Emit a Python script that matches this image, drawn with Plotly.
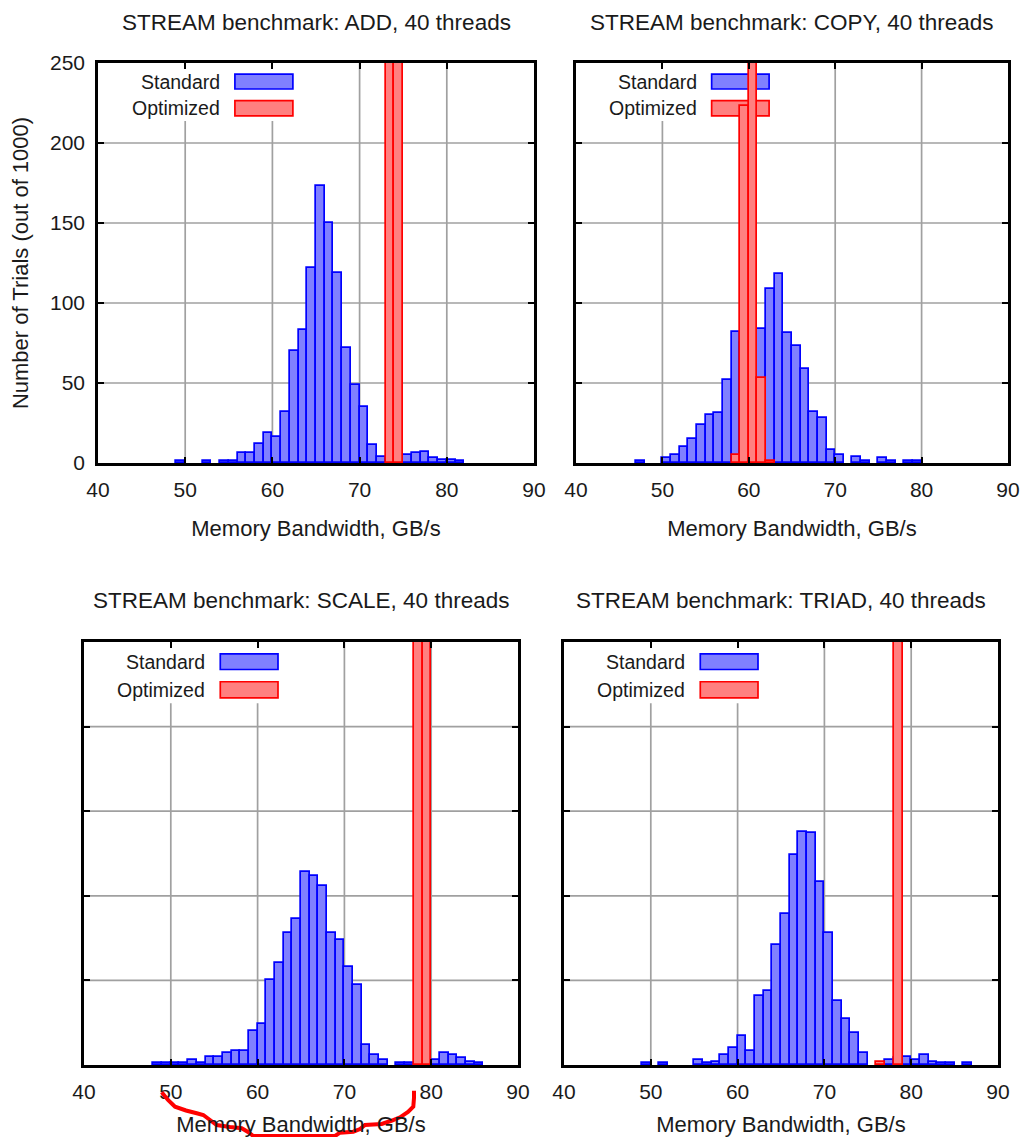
import plotly.graph_objects as go

# ---------------- data (bin left edge in GB/s, count out of 1000) ----------------
ADD_STD_GBS = [49, 52, 54, 55, 56, 57, 58, 59, 60, 61, 62, 63, 64, 65, 66, 67, 68, 69, 70, 71, 72, 73, 74, 75, 76, 77, 78, 79, 80, 81]
ADD_STD_N = [1, 1, 1, 1, 6, 6, 12, 19, 16, 32, 70, 83, 122, 173, 150, 119, 72, 49, 35, 11, 4, 2, 1, 5, 6, 7, 3, 2, 2, 1]
ADD_OPT_GBS = [73, 74]
ADD_OPT_N = [540, 460]

COPY_STD_GBS = [47, 50, 51, 52, 53, 54, 55, 56, 57, 58, 59, 60, 61, 62, 63, 64, 65, 66, 67, 68, 69, 70, 72, 73, 75, 76, 78, 79]
COPY_STD_N = [1, 3, 5, 10, 15, 24, 30, 31, 52, 82, 75, 64, 84, 109, 118, 81, 73, 59, 32, 28, 8, 5, 4, 1, 3, 1, 1, 1]
COPY_OPT_GBS = [58, 59, 60, 61, 62]
COPY_OPT_N = [5, 223, 718, 53, 1]

SCALE_STD_GBS = [48, 49, 50, 51, 52, 53, 54, 55, 56, 57, 58, 59, 60, 61, 62, 63, 64, 65, 66, 67, 68, 69, 70, 71, 72, 73, 74, 76, 77, 80, 81, 82, 83, 84, 85]
SCALE_STD_N = [1, 1, 1, 1, 3, 1, 5, 5, 7, 8, 8, 20, 24, 50, 60, 78, 86, 114, 112, 106, 78, 74, 58, 47, 12, 6, 3, 1, 1, 3, 7, 6, 4, 2, 1]
SCALE_OPT_GBS = [78, 79]
SCALE_OPT_N = [520, 480]

TRIAD_STD_GBS = [49, 51, 55, 56, 57, 58, 59, 60, 61, 62, 63, 64, 65, 66, 67, 68, 69, 70, 71, 72, 73, 74, 77, 78, 79, 80, 81, 82, 83, 84, 86]
TRIAD_STD_N = [1, 1, 3, 1, 2, 6, 10, 17, 8, 41, 44, 71, 89, 124, 138, 137, 108, 78, 38, 27, 19, 7, 3, 4, 5, 3, 6, 2, 1, 1, 1]
TRIAD_OPT_GBS = [76, 78]
TRIAD_OPT_N = [2, 998]

BIN_WIDTH = 1

PANEL_TITLES = ["STREAM benchmark: ADD, 40 threads", "STREAM benchmark: COPY, 40 threads",
                "STREAM benchmark: SCALE, 40 threads", "STREAM benchmark: TRIAD, 40 threads"]
SERIES_NAMES = ["Standard", "Optimized"]
X_TICKS = [40, 50, 60, 70, 80, 90]
Y_TICKS = [0, 50, 100, 150, 200, 250]
X_TITLE = "Memory Bandwidth, GB/s"
Y_TITLE = "Number of Trials (out of 1000)"

PANELS = [
    (ADD_STD_GBS, ADD_STD_N, ADD_OPT_GBS, ADD_OPT_N),
    (COPY_STD_GBS, COPY_STD_N, COPY_OPT_GBS, COPY_OPT_N),
    (SCALE_STD_GBS, SCALE_STD_N, SCALE_OPT_GBS, SCALE_OPT_N),
    (TRIAD_STD_GBS, TRIAD_STD_N, TRIAD_OPT_GBS, TRIAD_OPT_N),
]

# ---------------- layout geometry ----------------
PAGE_OFF = 8                      # html body margin; figure kept inside the window (no scrollbars)
W, H = 1029 - 2 * PAGE_OFF, 1145 - 2 * PAGE_OFF
FONT = "Liberation Sans, Arial, Helvetica, sans-serif"
TXT = "#1a1a1a"
BLUE_FILL, BLUE_LINE = "#8080ff", "#0000ff"
RED_FILL, RED_LINE = "#ff8080", "#ff0000"
GRID = "#a0a0a0"

# plot-area boxes in screen pixels (left, right, top, bottom)
BOXES = [(98, 534, 63, 463), (576, 1008, 63, 463), (84, 518, 642, 1065), (564, 998, 642, 1065)]
TITLE_Y_PX = [22, 22, 600, 600]
XTITLE_STANDOFF = [21, 21, 18, 18]


def px_x(v):
    return (v - PAGE_OFF) / W


def px_y(v):
    return 1 - (v - PAGE_OFF) / H


fig = go.Figure()

for i, (sg, sn, og, on) in enumerate(PANELS):
    k = "" if i == 0 else str(i + 1)
    fig.add_trace(go.Bar(x=sg, y=sn, width=BIN_WIDTH, offset=0, name=SERIES_NAMES[0],
                         marker=dict(color=BLUE_FILL, line=dict(color=BLUE_LINE, width=1.7)),
                         xaxis="x" + k, yaxis="y" + k, showlegend=False))
    fig.add_trace(go.Bar(x=og, y=on, width=BIN_WIDTH, offset=0, name=SERIES_NAMES[1],
                         marker=dict(color=RED_FILL, line=dict(color=RED_LINE, width=1.7)),
                         xaxis="x" + k, yaxis="y" + k, showlegend=False))

layout = dict(
    width=W, height=H, margin=dict(l=0, r=0, t=0, b=0, autoexpand=False), autosize=False,
    paper_bgcolor="white", plot_bgcolor="white", barmode="overlay", bargap=0,
    font=dict(family=FONT, color=TXT, size=21),
    annotations=[], shapes=[],
)

axis_common = dict(
    showline=True, linecolor="black", linewidth=2.5, mirror="ticks",
    ticks="inside", ticklen=6, tickwidth=2, tickcolor="black",
    showgrid=False, zeroline=False, automargin=False, ticklabeloverflow="allow",
    tickfont=dict(size=21, family=FONT, color=TXT),
)

for i, (l, r, t, b) in enumerate(BOXES):
    k = "" if i == 0 else str(i + 1)
    xa = dict(axis_common, domain=[px_x(l), px_x(r)], range=[40, 90], tickvals=X_TICKS,
              anchor="y" + k, ticklabelstandoff=6,
              title=dict(text=X_TITLE, font=dict(size=22, family=FONT, color=TXT),
                         standoff=XTITLE_STANDOFF[i]))
    ya = dict(axis_common, domain=[px_y(b), px_y(t)], range=[0, 250], tickvals=Y_TICKS,
              anchor="x" + k, showticklabels=(i == 0), ticklabelstandoff=6)
    if i == 0:
        ya["title"] = dict(text=Y_TITLE, font=dict(size=22, family=FONT, color=TXT), standoff=16)
    layout["xaxis" + k] = xa
    layout["yaxis" + k] = ya

    xr, yr = "x" + k, "y" + k
    xd, yd = xr + " domain", yr + " domain"

    # grid lines (drawn under the bars, at the tick positions)
    for xv in X_TICKS[1:-1]:
        layout["shapes"].append(dict(type="line", xref=xr, yref=yd, x0=xv, x1=xv, y0=0, y1=1,
                                     line=dict(color=GRID, width=1.7), layer="below"))
    for yv in Y_TICKS[1:-1]:
        layout["shapes"].append(dict(type="line", xref=xd, yref=yr, x0=0, x1=1, y0=yv, y1=yv,
                                     line=dict(color=GRID, width=1.7), layer="below"))

    # panel title
    layout["annotations"].append(dict(
        text=PANEL_TITLES[i], xref="paper", yref="paper", x=px_x((l + r) / 2), y=px_y(TITLE_Y_PX[i]),
        xanchor="center", yanchor="middle", showarrow=False, font=dict(size=22.5, family=FONT, color=TXT)))

    # key (gnuplot style: text left, swatch right), opaque box under the bars
    layout["shapes"].append(dict(type="rect", xref=xd, yref=yd, x0=0, x1=0.47, y0=0.855, y1=1,
                                 fillcolor="white", line=dict(width=0), layer="below"))
    for j, (fill, line, y0, y1) in enumerate([(BLUE_FILL, BLUE_LINE, 0.935, 0.972),
                                              (RED_FILL, RED_LINE, 0.868, 0.906)]):
        layout["shapes"].append(dict(type="rect", xref=xd, yref=yd, x0=0.314, x1=0.447, y0=y0, y1=y1,
                                     fillcolor=fill, line=dict(color=line, width=1.7), layer="below"))
        layout["annotations"].append(dict(
            text=SERIES_NAMES[j], xref=xd, yref=yd, x=0.284, y=(y0 + y1) / 2,
            xanchor="right", yanchor="middle", showarrow=False,
            font=dict(size=19.5, family=FONT, color=TXT)))

# hand-drawn red mark under the SCALE x axis (overlay, screen pixel positions)
SCRIBBLE_PX = [(161.7, 1092.3), (168, 1100), (175, 1106.7), (186, 1110.5), (196.7, 1113.3), (203.3, 1115),
               (210, 1120), (216.7, 1125), (230, 1127), (241.7, 1128.3), (248, 1132), (253.3, 1136),
               (300, 1136), (335, 1136), (340, 1132.7), (353.3, 1131.7), (360, 1129), (365, 1125),
               (381.7, 1124), (392, 1120.5), (400, 1117.3), (408, 1112), (413.3, 1106.7), (414, 1098),
               (414, 1090.7)]
path = "M " + " L ".join(f"{px_x(x):.5f},{px_y(y):.5f}" for x, y in SCRIBBLE_PX)
layout["shapes"].append(dict(type="path", path=path, xref="paper", yref="paper",
                             line=dict(color="#ff0000", width=4), layer="above"))

fig.update_layout(**layout)
fig.write_html("out.html")
